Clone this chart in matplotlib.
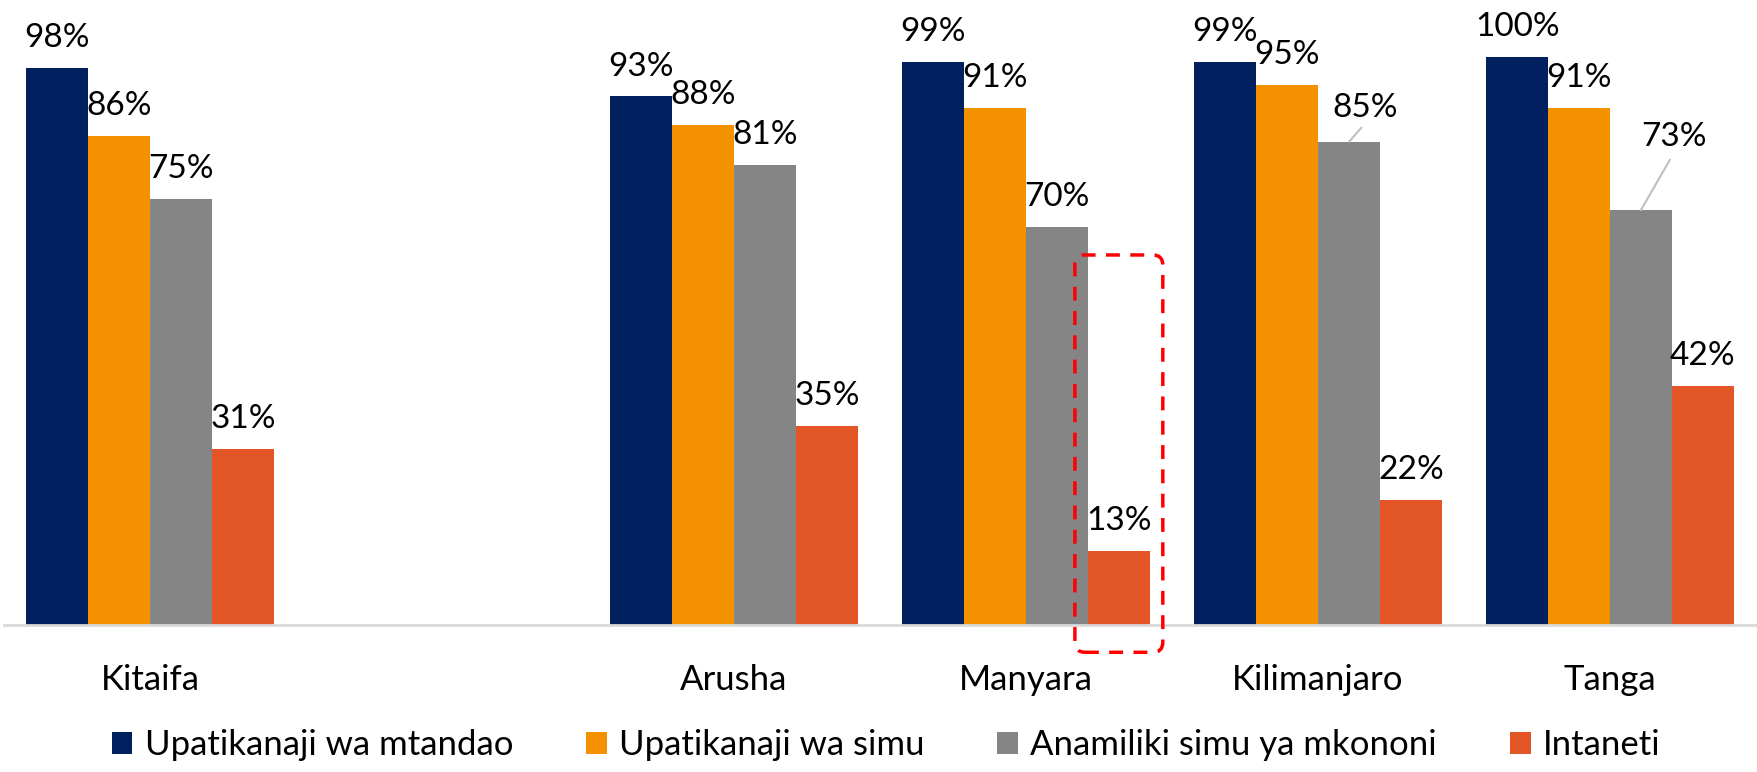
import numpy as np
import matplotlib
matplotlib.use("Agg")
import matplotlib.pyplot as plt
from matplotlib.patches import FancyBboxPatch

plt.rcParams['font.family'] = ['Lato', 'DejaVu Sans']

categories = ["Kitaifa", "", "Arusha", "Manyara", "Kilimanjaro", "Tanga"]
series_names = ["Upatikanaji wa mtandao", "Upatikanaji wa simu",
                "Anamiliki simu ya mkononi", "Intaneti"]
mtandao = [98, np.nan, 93, 99, 99, 100]
simu = [86, np.nan, 88, 91, 95, 91]
anamiliki = [75, np.nan, 81, 70, 85, 73]
intaneti = [31, np.nan, 35, 13, 22, 42]
series = [mtandao, simu, anamiliki, intaneti]
colors = ["#002060", "#F49100", "#858585", "#E15527"]

W, H, DPI = 17.58, 7.72, 100
fig = plt.figure(figsize=(W, H), dpi=DPI)
ax = fig.add_axes([4 / 1758, 1 - 625 / 772, 1752 / 1758, (625 - 56.6) / 772])

x = np.arange(len(categories))
bw = 0.212
offsets = (np.arange(4) - 1.5) * bw

FS_VAL = 24
FS_TXT = 25
for si, (vals, col) in enumerate(zip(series, colors)):
    ax.bar(x + offsets[si], vals, width=bw, color=col, label=series_names[si], zorder=2)
    for ci, v in enumerate(vals):
        if np.isnan(v):
            continue
        bx = x[ci] + offsets[si]
        if (si, ci) == (2, 4):
            ax.annotate(f"{v:.0f}%", xy=(bx, v), xytext=(12, 18),
                        textcoords="offset points", ha="center", va="baseline",
                        fontsize=FS_VAL, color="black",
                        arrowprops=dict(arrowstyle="-", color="#BFBFBF", lw=1.5,
                                        shrinkA=2, shrinkB=0, relpos=(0.5, 0.0)))
        elif (si, ci) == (2, 5):
            ax.annotate(f"{v:.0f}%", xy=(bx, v), xytext=(24, 46),
                        textcoords="offset points", ha="center", va="baseline",
                        fontsize=FS_VAL, color="black",
                        arrowprops=dict(arrowstyle="-", color="#BFBFBF", lw=1.5,
                                        shrinkA=4, shrinkB=0, relpos=(0.5, 0.0)))
        else:
            ax.annotate(f"{v:.0f}%", xy=(bx, v), xytext=(0, 15),
                        textcoords="offset points", ha="center", va="baseline",
                        fontsize=FS_VAL, color="black")

ax.set_xlim(-0.5, len(categories) - 0.5)
ax.set_ylim(0, 100)
for s in ax.spines.values():
    s.set_visible(False)
ax.axhline(0, color="#D9D9D9", lw=2, zorder=3, clip_on=False)
ax.set_yticks([])
ax.set_xticks(x)
ax.set_xticklabels(categories, fontsize=FS_TXT)
ax.tick_params(axis="x", length=0, pad=28)

# red dashed highlight box around Manyara internet bar
ci = categories.index("Manyara")
bx = x[ci] + offsets[3]
px_x = 1 / 292.0
px_y = 100 / (625 - 56.6)
left = bx - bw / 2 - 13 * px_x
right = bx + bw / 2 + 13 * px_x
top = 65.1
bottom = -4.8
box = FancyBboxPatch((left, bottom), right - left, top - bottom,
                     boxstyle=f"round,pad=0,rounding_size={10 * px_x}",
                     mutation_aspect=px_y / px_x,
                     fill=False, edgecolor="#FF0000", lw=2.5,
                     linestyle=(0, (4, 3)), clip_on=False, zorder=4)
ax.add_patch(box)

fig.legend(loc="center", bbox_to_anchor=(886 / 1758, 1 - 745 / 772), ncol=4,
           frameon=False, fontsize=FS_TXT, handlelength=0.6, handleheight=0.6,
           handletextpad=0.35, columnspacing=2.1)

fig.savefig("out.png", dpi=DPI)
